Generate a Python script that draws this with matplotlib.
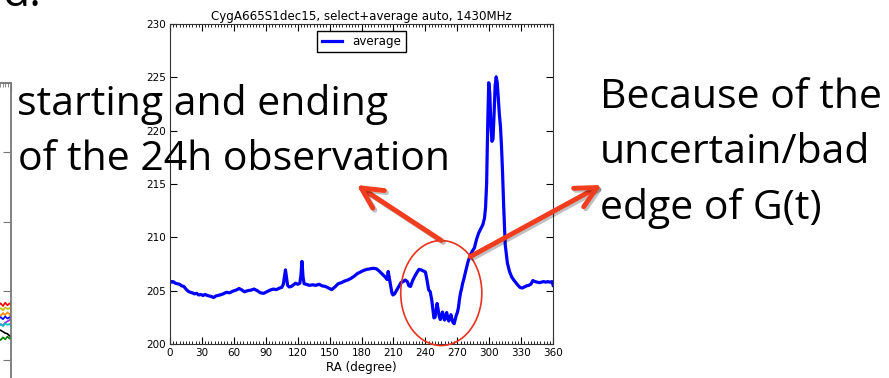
import matplotlib.pyplot as plt
import matplotlib.patheffects as pe
from matplotlib.patches import Ellipse
from matplotlib.ticker import MultipleLocator

# averaged drift scan, 1430 MHz
ra = [0, 1.5, 3, 5, 7, 9, 11, 13, 15, 17,
      19, 21, 23, 25, 27, 29, 31, 33, 35, 37,
      39, 41, 43, 45, 47, 50, 53, 56, 59, 62,
      65, 67, 70, 73, 76, 79, 82, 85, 88, 91,
      94, 97, 100, 103, 105, 106.5, 107.5, 108.5, 109.5, 110.5,
      112, 114, 116, 118, 120, 122, 123, 124, 125, 126,
      128, 131, 134, 137, 140, 143, 146, 149, 152, 155,
      158, 161, 164, 167, 170, 173, 176, 179, 182, 185,
      188, 191, 194, 197, 200, 202, 204, 205, 205.7, 206.5,
      207.5, 208.5, 209.5, 211, 213, 215, 217, 219, 221, 223,
      224.5, 226, 228, 230, 232, 234, 236, 238, 240, 241.5,
      243, 244.5, 246, 247, 248, 249, 250, 251, 252, 253,
      254, 255, 256, 257, 258, 259, 260, 261, 262, 263,
      264, 265, 266, 267, 268, 269, 270, 271, 272, 273,
      274, 275, 276, 278, 280, 282, 284, 286, 288, 290,
      292, 294, 295.5, 296.5, 297.5, 298.5, 299.5, 300.5, 301.5, 302.5,
      303.5, 304.5, 305.5, 306.5, 307.5, 308.5, 309.5, 310.5, 311.5, 312.5,
      313.5, 315, 317, 319, 321, 323, 325, 327, 329, 331,
      333, 335, 337, 339, 341, 343, 345, 347, 349, 351,
      353, 355, 357, 359, 360]
avg = [205.9, 205.8, 205.85, 205.7, 205.65, 205.6, 205.45, 205.4, 205.15, 204.95,
       204.85, 204.8, 204.7, 204.75, 204.6, 204.65, 204.55, 204.65, 204.55, 204.5,
       204.45, 204.35, 204.5, 204.55, 204.6, 204.7, 204.85, 204.8, 204.95, 205.05,
       205.2, 205.1, 204.9, 205.0, 205.05, 205.15, 205.0, 204.8, 204.75, 204.9,
       205.05, 205.15, 205.1, 205.25, 205.3, 205.6, 206.3, 206.95, 206.2, 205.5,
       205.35, 205.4, 205.55, 205.7, 205.6, 205.7, 206.4, 207.75, 206.3, 205.65,
       205.6, 205.5, 205.55, 205.5, 205.6, 205.45, 205.4, 205.25, 205.1, 205.35,
       205.65, 205.75, 205.9, 206.0, 206.15, 206.35, 206.6, 206.75, 206.9, 207.0,
       207.05, 207.1, 207.05, 206.8, 206.5, 206.3, 206.05, 206.8, 206.4, 205.9,
       205.4, 204.8, 204.6, 204.7, 205.05, 205.4, 205.75, 205.85, 206.0, 205.85,
       205.45, 205.4, 205.95, 206.35, 206.7, 207.0, 206.95, 206.85, 206.75, 206.0,
       205.1, 204.9, 204.1, 203.3, 202.45, 202.5, 203.1, 203.8, 203.2, 202.6,
       202.3, 202.5, 203.0, 202.6, 202.25, 202.6, 202.95, 202.4, 202.15, 202.5,
       202.75, 202.3, 202.0, 201.9, 202.3, 202.7, 202.95, 203.4, 204.2, 204.8,
       205.2, 205.7, 206.05, 206.9, 207.7, 208.3, 208.7, 209.0, 209.8, 210.4,
       210.8, 211.2, 211.8, 212.8, 215.0, 220.4, 224.5, 223.5, 220.5, 219.0,
       219.2, 221.5, 224.2, 225.05, 224.5, 223.0, 221.5, 220.4, 218.5, 216.0,
       213.0, 209.3, 207.6, 206.8, 206.3, 206.0, 205.75, 205.5, 205.3, 205.25,
       205.35, 205.45, 205.5, 205.6, 205.95, 205.85, 205.8, 205.75, 205.8, 205.85,
       205.8, 205.85, 205.8, 205.85, 205.5]

# neighbouring plot, only its right edge shows
left_x = [95.5, 96.3, 97.1, 97.9, 98.7, 99.5, 100]
left_series = {
    'red': [1.79, 1.82, 1.78, 1.83, 1.79, 1.82, 1.80],
    'y': [1.73, 1.75, 1.72, 1.76, 1.74, 1.75, 1.73],
    'darkorange': [1.66, 1.64, 1.68, 1.65, 1.69, 1.66, 1.62],
    'blue': [1.60, 1.62, 1.59, 1.63, 1.60, 1.62, 1.60],
    'blueviolet': [1.49, 1.52, 1.50, 1.54, 1.56, 1.58, 1.60],
    'c': [1.50, 1.52, 1.49, 1.53, 1.51, 1.52, 1.50],
    'k': [1.44, 1.43, 1.41, 1.39, 1.38, 1.35, 1.34],
    'green': [1.31, 1.29, 1.33, 1.30, 1.34, 1.31, 1.33],
}

arrow_red = '#f23c1e'
big_font = 'Open Sans'
big_size = 29.5

fig = plt.figure(figsize=(8.89, 3.78), dpi=100)

# left plot (cut off)
axl = fig.add_axes([-0.3, -0.136, 0.3124, 0.9164])
for c, vals in left_series.items():
    axl.plot(left_x, vals, color=c, lw=1.2)
axl.set_xlim(0, 100)
axl.set_ylim(0, 5)
axl.set_yticks([1, 2, 3, 4, 5])
axl.xaxis.set_minor_locator(MultipleLocator(1))
axl.tick_params(direction='in', right=True, top=True, length=6, labelleft=False,
                labelbottom=False, color='#777777')
axl.tick_params(which='minor', direction='in', top=True, length=3, color='#777777')
for s in axl.spines.values():
    s.set_color('#777777')
    s.set_linewidth(1.3)

# main plot
ax = fig.add_axes([0.1912, 0.0899, 0.4310, 0.8466])
ax.plot(ra, avg, color='b', lw=2.3, label='average', zorder=2)
ax.set_xlim(0, 360)
ax.set_ylim(200, 230)
ax.set_xticks(range(0, 361, 30))
ax.set_yticks(range(200, 231, 5))
ax.xaxis.set_minor_locator(MultipleLocator(3))
ax.tick_params(direction='in', top=True, right=True, length=5, labelsize=7.5, pad=3)
ax.tick_params(which='minor', direction='in', top=True, length=2.5)
for s in ax.spines.values():
    s.set_color('#333333')
ax.set_title('CygA665S1dec15, select+average auto, 1430MHz', fontsize=8.6, pad=3)
ax.set_xlabel('RA (degree)', fontsize=8.6, labelpad=2)
leg = ax.legend(loc='upper center', fontsize=8.6, fancybox=False, framealpha=1,
                edgecolor='black', handlelength=1.7, borderaxespad=0.55,
                borderpad=0.35, handletextpad=0.9)
leg.get_frame().set_linewidth(1.0)

# circle round the dip and the two arrows
ax.add_patch(Ellipse((254.9, 204.78), width=76.2, height=9.84, fill=False,
                     ec='#e8321e', lw=1.2, clip_on=False, zorder=3))
shadow = [pe.SimpleLineShadow(offset=(1.5, -1.5), alpha=0.25), pe.Normal()]
for tail, tip in [((255, 209.7), (0.4012, 0.5106)), ((282.2, 208.2), (0.6768, 0.5106))]:
    ax.annotate('', xy=tip, xycoords='figure fraction', xytext=tail, textcoords='data',
                annotation_clip=False, zorder=4,
                arrowprops=dict(arrowstyle='->,head_length=0.75,head_width=0.38',
                                mutation_scale=20, color=arrow_red, lw=3.5,
                                shrinkA=0, shrinkB=0, path_effects=shadow))

# slide text
fig.text(0.047, 0.984, 'd.', ha='right', va='baseline', fontsize=32, family=big_font)
fig.text(0.019, 0.6958, 'starting and ending', va='baseline', fontsize=big_size, family=big_font)
fig.text(0.020, 0.5503, 'of the 24h observation', va='baseline', fontsize=big_size, family=big_font)
fig.text(0.6749, 0.7143, 'Because of the', va='baseline', fontsize=big_size, family=big_font)
fig.text(0.6749, 0.5688, 'uncertain/bad', va='baseline', fontsize=big_size, family=big_font)
fig.text(0.6749, 0.4206, 'edge of G(t)', va='baseline', fontsize=big_size, family=big_font)

fig.savefig('out.png', dpi=100)
